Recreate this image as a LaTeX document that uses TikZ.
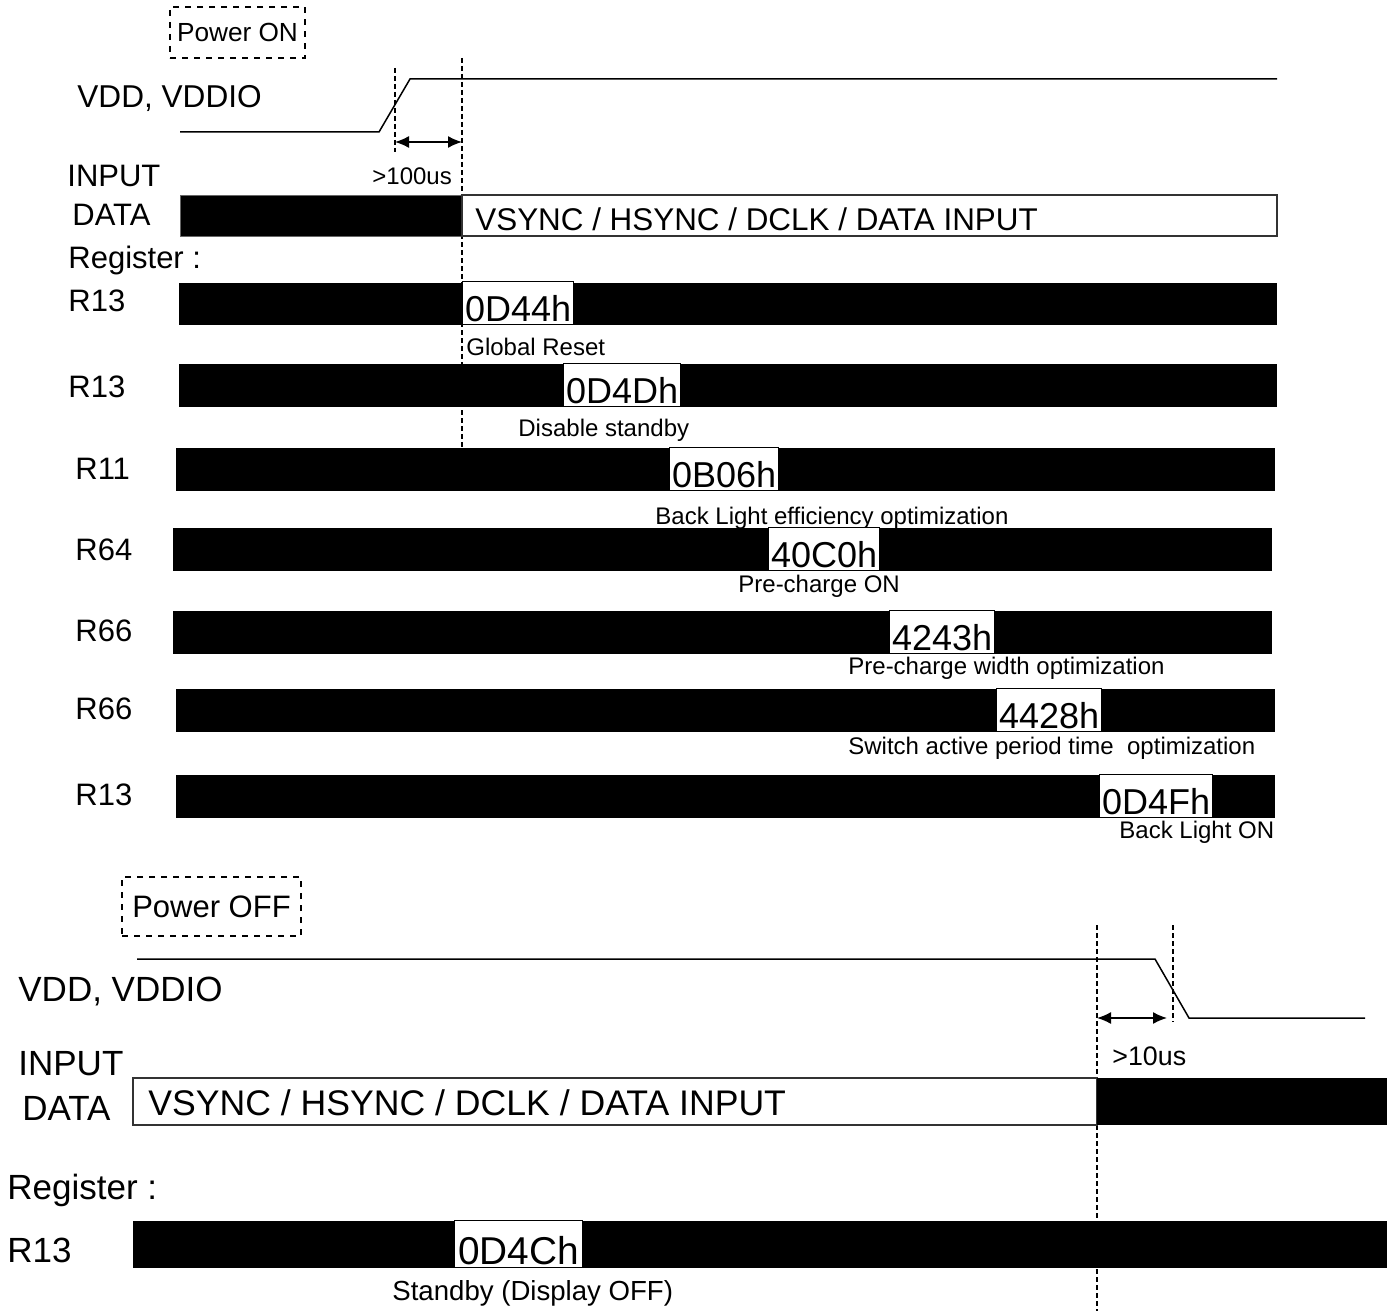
\documentclass[tikz,border=0pt]{standalone}
\usepackage{fontspec}
\setmainfont{Liberation Sans}
\usetikzlibrary{arrows.meta}

\tikzset{
	sig/.style={line width=0.75pt},
	span/.style={line width=0.75pt, {Latex[length=7pt,width=6pt]}-{Latex[length=7pt,width=6pt]}},
	guide/.style={line width=0.6pt, dash pattern=on 2.5pt off 1.5pt},
	bus/.style={draw=black!80, line width=0.75pt},
	hex/.style={fill=white, draw=black, line width=0.4pt, inner xsep=1.3pt, inner ysep=0pt,
		text height=20pt, text depth=1.5pt, anchor=south west, font=\fontsize{18}{20}\selectfont},
	lbl/.style={anchor=west, inner sep=0pt, font=\fontsize{15.5}{18}\selectfont},
	biglbl/.style={anchor=west, inner sep=0pt, font=\fontsize{17.5}{20}\selectfont},
	note/.style={anchor=west, inner sep=0pt, font=\fontsize{12}{14}\selectfont},
	phase/.style={draw, dashed, line width=0.6pt, inner sep=0pt},
}

\begin{document}
\begin{tikzpicture}[x=0.5pt,y=-0.5pt]
	\useasboundingbox (0,0) rectangle (1387,1311);

	% power on
	\node[phase, minimum width=67.5pt, minimum height=25.5pt, font=\fontsize{13.1}{15}\selectfont] (pon) at (237.5,32.5) {Power ON};
	\node[lbl, font=\fontsize{15.8}{18}\selectfont] (vddon) at (77,98) {VDD, VDDIO};
	\draw[sig] (180,132) -- (379,132) -- (410,79) -- (1277,79);
	\draw[guide] (395,68) -- (395,152);
	\draw[guide] (462,58) -- (462,447);
	\coordinate (t1a) at (395,142);
	\coordinate (t1b) at (462,142);
	\draw[span] (t1a) -- (t1b);
	\node[note] (t1) at (372,176) {>100us};

	\node[lbl] (inon) at (67,176) {INPUT};
	\node[lbl] (daon) at (72,215) {DATA};
	\filldraw[fill=black, draw=black!60, line width=0.5pt] (180,195) rectangle (462,236);
	\draw[bus] (462,195) rectangle (1277,236);
	\node[lbl, font=\fontsize{15.7}{18}\selectfont] (buson) at (475,219) {VSYNC / HSYNC / DCLK / DATA INPUT};
	\node[lbl] (regon) at (68,260) {Register :};

	% register writes
	\node[lbl] (r1) at (68,301) {R13};
	\fill (179,283) rectangle (1277,325);
	\node[hex] (h1) at (462,325) {0D44h};
	\node[note] (n1) at (466,347) {Global Reset};

	\node[lbl] (r2) at (68,387) {R13};
	\fill (179,364) rectangle (1277,407);
	\node[hex] (h2) at (563,407) {0D4Dh};
	\node[note] (n2) at (518,430) {Disable standby};

	\node[lbl] (r3) at (75,469) {R11};
	\fill (176,448) rectangle (1275,491);
	\node[hex] (h3) at (669,491) {0B06h};
	\node[note] (n3) at (655,518) {Back Light efficiency optimization};

	\node[lbl] (r4) at (75,550) {R64};
	\fill (173,528) rectangle (1272,571);
	\node[hex] (h4) at (768,571) {40C0h};
	\node[note] (n4) at (738,586) {Pre-charge ON};

	\node[lbl] (r5) at (75,631) {R66};
	\fill (173,611) rectangle (1272,654);
	\node[hex] (h5) at (889,654) {4243h};
	\node[note] (n5) at (848,668) {Pre-charge width optimization};

	\node[lbl] (r6) at (75,709) {R66};
	\fill (176,689) rectangle (1275,732);
	\node[hex] (h6) at (996,732) {4428h};
	\node[note] (n6) at (848,748) {Switch active period time \ optimization};

	\node[lbl] (r7) at (75,795) {R13};
	\fill (176,775) rectangle (1275,818);
	\node[hex] (h7) at (1099,818) {0D4Fh};
	\node[note] (n7) at (1119,832) {Back Light ON};

	% power off
	\node[phase, minimum width=89.5pt, minimum height=29.5pt, font=\fontsize{15.5}{18}\selectfont] (poff) at (211.5,906.5) {Power OFF};
	\node[biglbl] (vddoff) at (18,992) {VDD, VDDIO};
	\draw[sig] (137,959) -- (1155,959) -- (1189,1018) -- (1365,1018);
	\draw[guide] (1097,925) -- (1097,1311);
	\draw[guide] (1173,925) -- (1173,1022);
	\coordinate (t2a) at (1097,1018);
	\coordinate (t2b) at (1167,1018);
	\draw[span] (t2a) -- (t2b);
	\node[note, font=\fontsize{13.4}{16}\selectfont] (t2) at (1112,1056) {>10us};

	\node[biglbl] (inoff) at (18,1064) {INPUT};
	\node[biglbl] (daoff) at (22,1108) {DATA};
	\draw[bus] (133,1078) rectangle (1097,1125);
	\fill (1097,1078) rectangle (1387,1125);
	\node[biglbl, font=\fontsize{17.8}{20}\selectfont] (busoff) at (148,1103) {VSYNC / HSYNC / DCLK / DATA INPUT};
	\node[biglbl] (regoff) at (7,1190) {Register :};

	\node[biglbl] (r8) at (7,1250) {R13};
	\fill (133,1221) rectangle (1387,1268);
	\node[hex, text height=22pt, font=\fontsize{19.4}{22}\selectfont, inner xsep=1.8pt] (h8) at (454,1268) {0D4Ch};
	\node[note, font=\fontsize{13.8}{16}\selectfont] (n8) at (392,1293) {Standby (Display OFF)};
\end{tikzpicture}
\end{document}
